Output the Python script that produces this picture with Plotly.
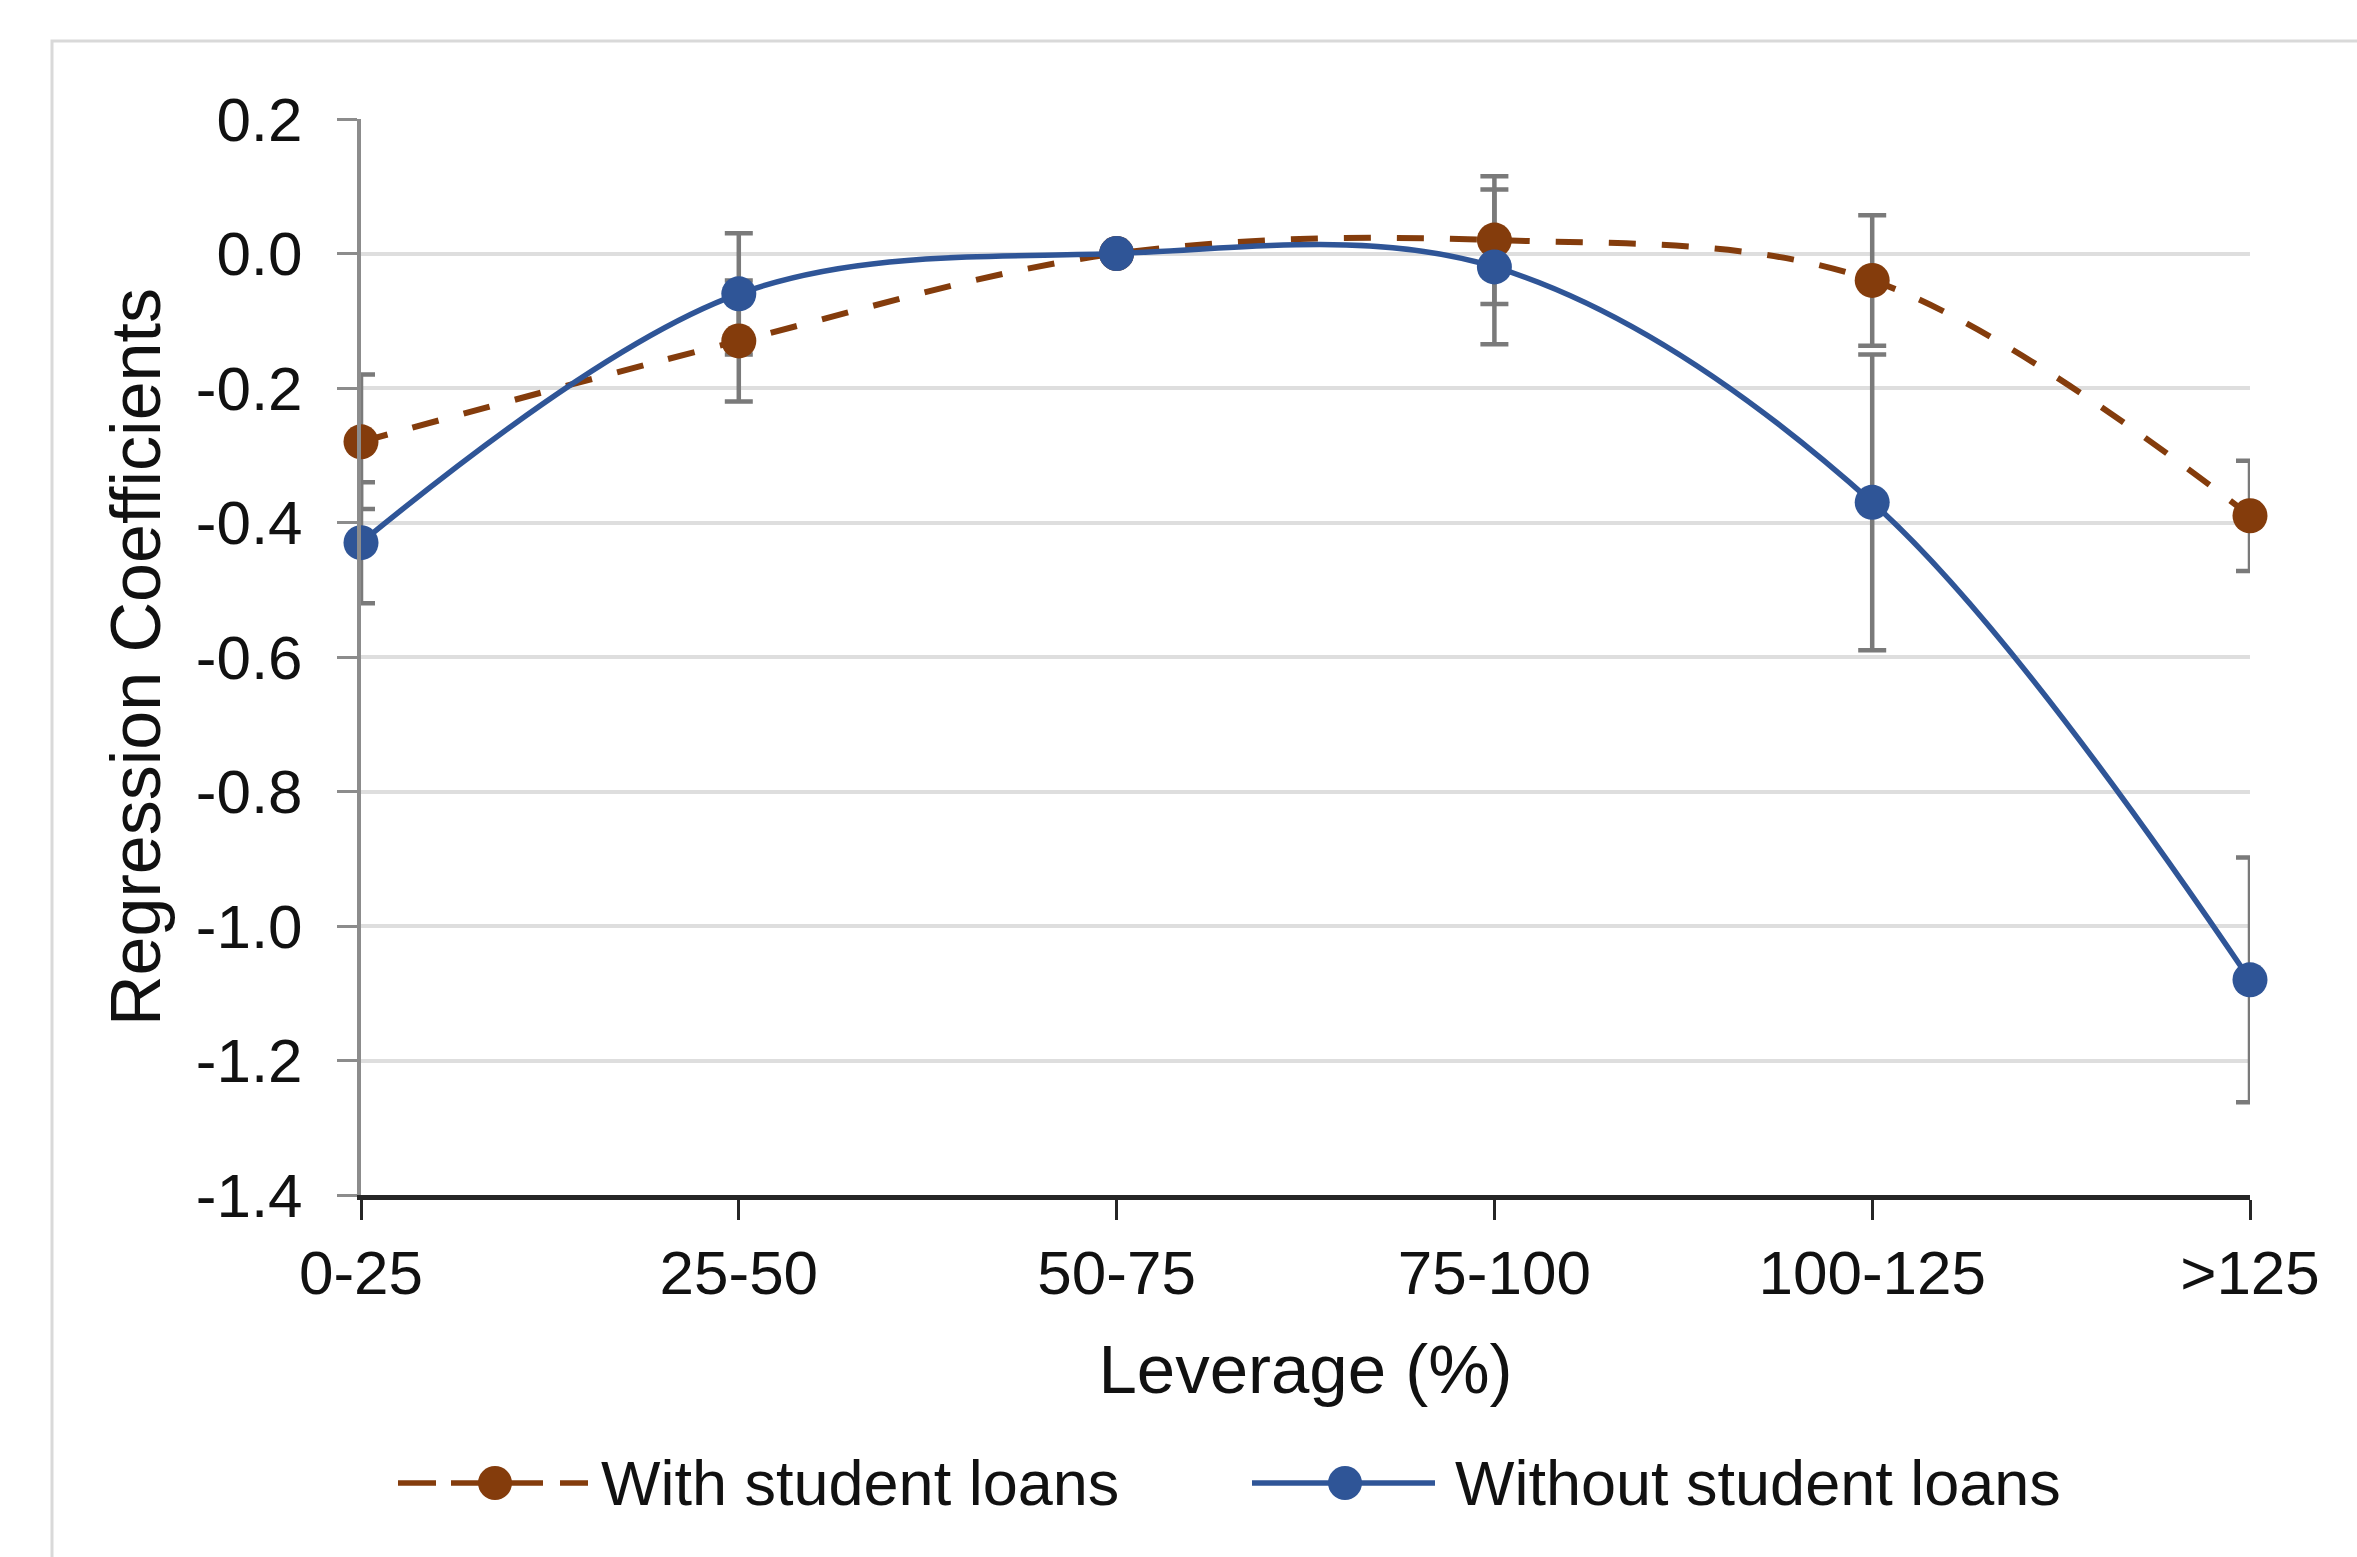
import plotly.graph_objects as go

# ---------------- data ----------------
categories = ["0-25", "25-50", "50-75", "75-100", "100-125", ">125"]
with_loans = [-0.28, -0.13, 0.0, 0.02, -0.04, -0.39]
with_loans_err = [0.10, 0.09, 0.0, 0.095, 0.097, 0.082]
without_loans = [-0.43, -0.06, 0.0, -0.02, -0.37, -1.08]
without_loans_err = [0.09, 0.09, 0.0, 0.115, 0.22, 0.182]
y_tick_vals = [0.2, 0.0, -0.2, -0.4, -0.6, -0.8, -1.0, -1.2, -1.4]
y_tick_text = ["0.2", "0.0", "-0.2", "-0.4", "-0.6", "-0.8", "-1.0", "-1.2", "-1.4"]
series_names = ["With student loans", "Without student loans"]

# ---------------- style ----------------
W, H = 2357, 1557
L, R, T, B = 361, 107, 119, 362
BROWN = "#843C0C"
BLUE = "#2F5597"
ERR = "#7A7A7A"
FONT = "Arial, Liberation Sans, sans-serif"
TXT = "#111111"
DASH = "27px,26px"

x_pos = list(range(len(categories)))

def px_x(p):
    return (p - L) / (W - L - R)

def px_y(p):
    return (H - B - p) / (H - T - B)

fig = go.Figure()

# error bars first so that every marker sits on top of them (as in Excel)
for vals, errs in ((with_loans, with_loans_err), (without_loans, without_loans_err)):
    fig.add_trace(go.Scatter(
        x=x_pos, y=vals, mode="markers",
        marker=dict(size=1, color="rgba(0,0,0,0)"),
        error_y=dict(type="data", array=errs, visible=True,
                     color=ERR, thickness=4.5, width=14),
        cliponaxis=False, showlegend=False, hoverinfo="skip",
    ))

fig.add_trace(go.Scatter(
    x=x_pos, y=with_loans, name=series_names[0], mode="lines+markers",
    line=dict(color=BROWN, width=6, dash=DASH, shape="spline", smoothing=1),
    marker=dict(color=BROWN, size=35),
    cliponaxis=False, showlegend=False,
))
fig.add_trace(go.Scatter(
    x=x_pos, y=without_loans, name=series_names[1], mode="lines+markers",
    line=dict(color=BLUE, width=5.5, shape="spline", smoothing=1),
    marker=dict(color=BLUE, size=35),
    cliponaxis=False, showlegend=False,
))

shapes = [
    # outer chart frame
    dict(type="rect", xref="paper", yref="paper",
         x0=px_x(52), x1=px_x(W + 40), y0=px_y(H + 40), y1=px_y(41),
         line=dict(color="#D9D9D9", width=3), fillcolor="rgba(0,0,0,0)", layer="below"),
]
annotations = []

# manual legend (wide Excel-like symbols)
legend_y = px_y(1483)
leg_items = [
    (series_names[0], BROWN, "38px,15px,92px,17px,40px", 398, 588, 495, 599),
    (series_names[1], BLUE, "solid", 1252, 1435, 1345, 1453),
]
for name, col, dash, lx0, lx1, mx, tx in leg_items:
    shapes.append(dict(type="line", xref="paper", yref="paper",
                       x0=px_x(lx0), x1=px_x(lx1), y0=legend_y, y1=legend_y,
                       line=dict(color=col, width=5.5, dash=dash)))
    shapes.append(dict(type="circle", xref="paper", yref="paper",
                       xsizemode="pixel", ysizemode="pixel",
                       xanchor=px_x(mx), yanchor=legend_y,
                       x0=-17, x1=17, y0=-17, y1=17,
                       fillcolor=col, line=dict(width=0)))
    annotations.append(dict(text=name, xref="paper", yref="paper",
                            x=px_x(tx), y=legend_y, xanchor="left", yanchor="middle",
                            showarrow=False, font=dict(family=FONT, size=63, color=TXT)))

fig.update_layout(
    width=W, height=H, autosize=False,
    margin=dict(l=L, r=R, t=T, b=B),
    paper_bgcolor="white", plot_bgcolor="white",
    font=dict(family=FONT, color=TXT),
    shapes=shapes, annotations=annotations,
    showlegend=False,
)
fig.update_xaxes(
    range=[0, len(categories) - 1], tickvals=x_pos, ticktext=categories,
    showgrid=False, zeroline=False,
    showline=True, linecolor="#262626", linewidth=5,
    ticks="outside", ticklen=20, tickwidth=3, tickcolor="#262626",
    tickfont=dict(family=FONT, size=62, color=TXT),
    title=dict(text="Leverage (%)", font=dict(family=FONT, size=69, color=TXT), standoff=40),
)
fig.update_yaxes(
    range=[-1.4, 0.2], tickvals=y_tick_vals, ticktext=y_tick_text,
    showgrid=True, gridcolor="#DEDEDE", gridwidth=4, zeroline=False,
    showline=True, linecolor="#8C8C8C", linewidth=4,
    ticks="outside", ticklen=20, tickwidth=3, tickcolor="#8C8C8C",
    ticklabelstandoff=22,
    tickfont=dict(family=FONT, size=62, color=TXT),
    title=dict(text="Regression Coefficients", font=dict(family=FONT, size=70, color=TXT), standoff=13),
)

fig.write_html("out.html", config={"displayModeBar": False},
               post_script="document.body.style.margin='0';document.body.style.overflow='hidden';")
